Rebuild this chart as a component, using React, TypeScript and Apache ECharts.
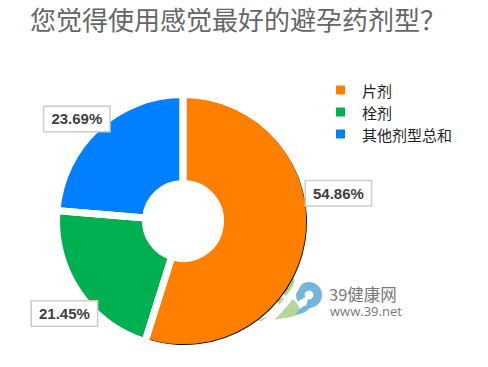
import React, { useEffect, useRef } from "react";
import * as echarts from "echarts";

const titleText = "您觉得使用感觉最好的避孕药剂型？";
const categories = ["片剂", "栓剂", "其他剂型总和"];
const values = [54.86, 21.45, 23.69];
const colors = ["#FF8000", "#00B050", "#0080FF"];
const labelOffsets = [
  [-6.5, -47.7],
  [22.6, 19.5],
  [15, -5.7],
];

export default function App() {
  const ref = useRef<HTMLDivElement>(null);
  useEffect(() => {
    document.body.style.margin = "0";
    const chart = echarts.init(ref.current!, null, { renderer: "svg" });
    const d2r = Math.PI / 180;
    const center = [183, 221];
    chart.setOption({
      animation: false,
      backgroundColor: "#ffffff",
      title: {
        text: titleText,
        left: 25,
        top: 0,
        textStyle: {
          fontFamily: "Noto Sans CJK SC",
          fontSize: 26,
          fontWeight: "normal",
          color: "#666666",
        },
      },
      legend: {
        orient: "vertical",
        left: 336,
        top: 82.5,
        padding: 0,
        itemWidth: 9,
        itemHeight: 9,
        itemGap: 7,
        icon: "rect",
        data: categories,
        textStyle: {
          fontFamily: "Noto Sans CJK SC",
          fontSize: 15,
          color: "#222222",
          padding: [0, 0, 0, 12],
        },
      },
      graphic: [
        {
          type: "group",
          z: 100,
          children: [
            {
              type: "polygon",
              shape: {
                points: [
                  [274, 288], [283, 282], [294, 279], [292, 288], [286, 296],
                  [283, 292], [287, 286],
                ],
                smooth: 0.3,
              },
              style: { fill: "#94C86F", opacity: 0.8 },
            },
            {
              type: "polygon",
              shape: {
                points: [
                  [277, 300], [290, 298], [298, 305], [300, 313], [291, 317],
                  [258, 321], [270, 315], [281, 309],
                ],
                smooth: 0.3,
              },
              style: { fill: "#A6D08A", opacity: 0.85 },
            },
            {
              type: "sector",
              shape: {
                cx: 309,
                cy: 295,
                r: 13,
                r0: 4.5,
                startAngle: 150 * d2r,
                endAngle: 465 * d2r,
                clockwise: true,
              },
              style: { fill: "#72B5DF" },
            },
            {
              type: "polygon",
              shape: {
                points: [[304, 306], [310, 307.5], [303, 313], [296, 314]],
                smooth: 0.3,
              },
              style: { fill: "#72B5DF" },
            },
            {
              type: "text",
              x: 329,
              y: 285,
              style: {
                text: "{a|39健康网}\n{b|www.39.net}",
                verticalAlign: "top",
                fill: "#7a7a7a",
                rich: {
                  a: {
                    fontFamily: "Noto Sans CJK SC",
                    fontSize: 16.5,
                    lineHeight: 18,
                    fill: "#7a7a7a",
                  },
                  b: {
                    fontFamily: "Open Sans",
                    fontSize: 13,
                    lineHeight: 15,
                    fill: "#7a7a7a",
                    padding: [0, 0, 0, 1],
                  },
                },
              },
            },
          ],
        },
      ],
      series: [
        {
          type: "pie",
          z: 2,
          center,
          radius: [37.5, 123],
          startAngle: 90,
          clockwise: true,
          label: { show: false },
          labelLine: { show: false },
          data: categories.map((name, i) => ({
            name,
            value: values[i],
            itemStyle:
              i === 0
                ? {
                    color: colors[i],
                    shadowColor: "rgba(0,0,0,0.9)",
                    shadowBlur: 1.5,
                    shadowOffsetX: 1,
                    shadowOffsetY: 1,
                  }
                : { color: colors[i] },
          })),
        },
        {
          type: "pie",
          z: 3,
          center,
          radius: [37.5, 131],
          startAngle: 90,
          clockwise: true,
          avoidLabelOverlap: false,
          itemStyle: {
            color: "rgba(255,255,255,0)",
            borderColor: "#ffffff",
            borderWidth: 7,
          },
          emphasis: { disabled: true },
          tooltip: { show: false },
          labelLine: { show: false, length: 0, length2: 0 },
          label: {
            show: true,
            position: "outside",
            distanceToLabelLine: 0,
            formatter: "{c}%",
            fontFamily: "Liberation Sans",
            fontWeight: "bold",
            fontSize: 15,
            color: "#404040",
            backgroundColor: "#ffffff",
            borderColor: "#cccccc",
            borderWidth: 1.5,
            padding: [5, 7, 4, 7],
          },
          data: values.map((value, i) => ({
            value,
            label: { offset: labelOffsets[i] },
          })),
        },
      ],
    });
    return () => chart.dispose();
  }, []);
  return <div ref={ref} style={{ width: 488, height: 367 }} />;
}
